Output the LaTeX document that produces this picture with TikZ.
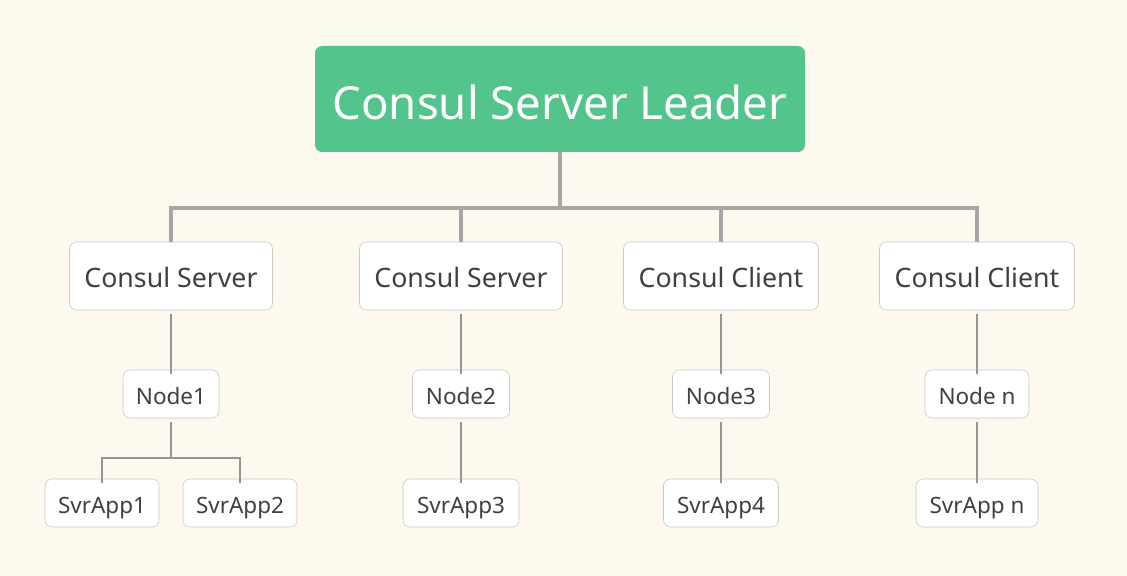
\documentclass[tikz,border=0pt]{standalone}
\usepackage{fontspec}
\setmainfont{Noto Sans}
\definecolor{bgcream}{RGB}{254,249,238}
\definecolor{leadgreen}{RGB}{82,196,140}
\definecolor{boxline}{RGB}{200,200,200}
\definecolor{wire}{RGB}{166,166,166}
\definecolor{txt}{RGB}{64,64,64}
\tikzset{
  leadbox/.style={fill=leadgreen, rounded corners=5pt, text=white, inner sep=0pt,
    text height=29.5pt, text depth=0pt, font=\fontsize{32.4}{36}\selectfont},
  srvbox/.style={draw=boxline, fill=white, rounded corners=5pt, text=txt, inner sep=0pt,
    minimum height=68*0.025cm, text height=16.4pt, text depth=0pt,
    font=\fontsize{19}{23}\selectfont},
  hostbox/.style={draw=boxline, fill=white, rounded corners=5pt, text=txt, inner sep=0pt,
    minimum height=48*0.025cm, text height=14.3pt, text depth=0pt,
    font=\fontsize{16}{19}\selectfont},
  appbox/.style={hostbox},
  thickwire/.style={draw=wire, line width=2.2pt},
  thinwire/.style={draw=wire!90!black, line width=1.2pt},
}
\begin{document}
\begin{tikzpicture}[x=0.025cm, y=-0.025cm]
    % 背景
    \fill[bgcream] (0,0) rectangle (1127,576);
    \useasboundingbox (0,0) rectangle (1127,576);

    % 顶层
    \node[leadbox, minimum width=490*0.025cm, minimum height=106*0.025cm] (leader) at (560,99) {Consul Server Leader};

    % 第二层
    \node[srvbox, minimum width=203*0.025cm] (srv1) at (171,276) {Consul Server};
    \node[srvbox, minimum width=203*0.025cm] (srv2) at (461,276) {Consul Server};
    \node[srvbox, minimum width=195*0.025cm] (cli1) at (721,276) {Consul Client};
    \node[srvbox, minimum width=195*0.025cm] (cli2) at (977,276) {Consul Client};

    % 第三层
    \node[hostbox, minimum width=96*0.025cm] (node1) at (171,394) {Node1};
    \node[hostbox, minimum width=97*0.025cm] (node2) at (461,394) {Node2};
    \node[hostbox, minimum width=97*0.025cm] (node3) at (721,394) {Node3};
    \node[hostbox, minimum width=104*0.025cm] (noden) at (977,394) {Node n};

    % 第四层
    \node[appbox, minimum width=114*0.025cm] (app1) at (102,503) {SvrApp1};
    \node[appbox, minimum width=114*0.025cm] (app2) at (240,503) {SvrApp2};
    \node[appbox, minimum width=116*0.025cm] (app3) at (461,503) {SvrApp3};
    \node[appbox, minimum width=115*0.025cm] (app4) at (721,503) {SvrApp4};
    \node[appbox, minimum width=122*0.025cm] (appn) at (977,503) {SvrApp n};

    % 连线: leader -> 第二层
    \coordinate (bus) at (560,208);
    \draw[thickwire] (leader.south) -- (bus);
    \draw[thickwire] (bus) -| (srv1.north);
    \draw[thickwire] (bus) -| (srv2.north);
    \draw[thickwire] (bus) -| (cli1.north);
    \draw[thickwire] (bus) -| (cli2.north);

    % 第二层 -> 第三层
    \draw[thinwire] (srv1.south) ++(0,4) -- ([yshift=-4*0.025cm]node1.north);
    \draw[thinwire] (srv2.south) ++(0,4) -- ([yshift=-4*0.025cm]node2.north);
    \draw[thinwire] (cli1.south) ++(0,4) -- ([yshift=-4*0.025cm]node3.north);
    \draw[thinwire] (cli2.south) ++(0,4) -- ([yshift=-4*0.025cm]noden.north);

    % 第三层 -> 第四层
    \coordinate (fork) at (171,458);
    \draw[thinwire] (node1.south) ++(0,4) -- (fork);
    \draw[thinwire] (fork) -| ([yshift=-4*0.025cm]app1.north);
    \draw[thinwire] (fork) -| ([yshift=-4*0.025cm]app2.north);
    \draw[thinwire] (node2.south) ++(0,4) -- ([yshift=-4*0.025cm]app3.north);
    \draw[thinwire] (node3.south) ++(0,4) -- ([yshift=-4*0.025cm]app4.north);
    \draw[thinwire] (noden.south) ++(0,4) -- ([yshift=-4*0.025cm]appn.north);
\end{tikzpicture}
\end{document}
